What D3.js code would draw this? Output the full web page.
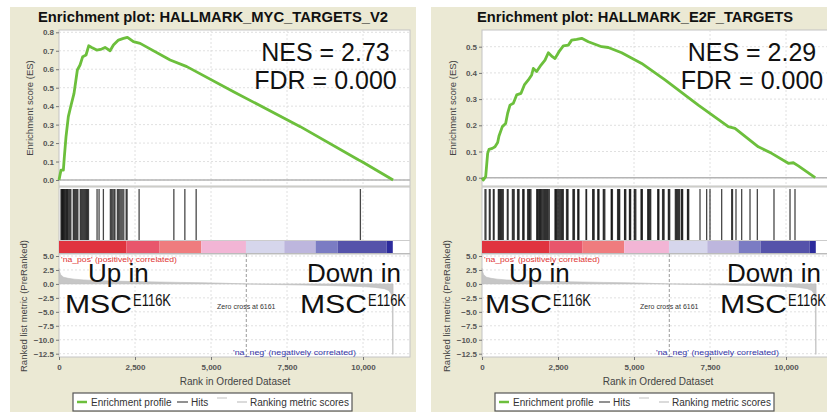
<!DOCTYPE html>
<html><head><meta charset="utf-8">
<script src="https://cdn.jsdelivr.net/npm/d3@7"></script>
<style>body{margin:0;background:#fff;} svg{display:block;font-family:"Liberation Sans",Arial,sans-serif;}</style>
</head><body><svg id="c" width="827" height="412"></svg>
<script>
// ---------------- DATA ----------------
const rankTicks = [0, 2500, 5000, 7500, 10000];
const metricTicks = [5, 2.5, 0, -2.5, -5, -7.5, -10, -12.5];
const mycTicks = [0, 0.1, 0.2, 0.3, 0.4, 0.5, 0.6, 0.7, 0.8];
const e2fTicks = [0, 0.1, 0.2, 0.3, 0.4, 0.5];
const nRanks = 11000;
const zeroCross = 6161;

// Enrichment profile: MYC targets V2
const mycRank = [0, 66, 143, 176, 231, 307, 384, 494, 604, 692, 780, 889, 977, 1076, 1241, 1405, 1515, 1680, 1790, 1955, 2120, 2251, 2449, 2668, 3656, 4205, 5742, 7938, 9859, 9970, 10990];
const mycES   = [0, 0.054, 0.054, 0.126, 0.235, 0.343, 0.397, 0.469, 0.596, 0.623, 0.668, 0.677, 0.727, 0.718, 0.704, 0.709, 0.718, 0.700, 0.731, 0.758, 0.767, 0.773, 0.749, 0.740, 0.650, 0.614, 0.478, 0.289, 0.108, 0.099, 0];
const mycHits = [66, 90, 110, 130, 150, 175, 200, 225, 250, 275, 300, 330, 360, 390, 470, 500, 530, 560, 590, 620, 700, 730, 760, 790, 820, 850, 880, 910, 940, 970, 1252, 1318, 1460, 1690, 1730, 1770, 1810, 1840, 1920, 1960, 2000, 2040, 2080, 2130, 2210, 2240, 2635, 3778, 4140, 4512, 9914];

// Enrichment profile: E2F targets
const e2fRank = [0, 44, 121, 186, 230, 340, 428, 515, 559, 669, 778, 844, 921, 1031, 1140, 1283, 1393, 1524, 1634, 1689, 1798, 1941, 2072, 2182, 2314, 2401, 2533, 2675, 2840, 2950, 3114, 3279, 3498, 3936, 4155, 4594, 5252, 6020, 7116, 8102, 8322, 9090, 9529, 10077, 10241, 10406, 10960];
const e2fES   = [0, -0.009, 0.004, 0.093, 0.108, 0.112, 0.118, 0.134, 0.159, 0.195, 0.207, 0.246, 0.277, 0.284, 0.316, 0.322, 0.354, 0.373, 0.392, 0.417, 0.405, 0.430, 0.449, 0.477, 0.462, 0.455, 0.481, 0.503, 0.506, 0.525, 0.528, 0.532, 0.519, 0.500, 0.497, 0.477, 0.436, 0.373, 0.277, 0.195, 0.188, 0.118, 0.093, 0.055, 0.057, 0.045, 0];
const e2fHits = [99, 130, 241, 270, 373, 400, 537, 560, 585, 610, 640, 670, 702, 833, 860, 1000, 1030, 1060, 1170, 1195, 1220, 1340, 1360, 1385, 1500, 1530, 1557, 1580, 1610, 1800, 1820, 1845, 1870, 1895, 1920, 1945, 1970, 2000, 2030, 2060, 2090, 2120, 2150, 2180, 2215, 2401, 2420, 2445, 2470, 2500, 2530, 2560, 2590, 2620, 2650, 2675, 2780, 2807, 2830, 2990, 3016, 3040, 3150, 3169, 3190, 3421, 3440, 3640, 3662, 3690, 3810, 3826, 3850, 3990, 4013, 4040, 4250, 4266, 4290, 4460, 4485, 4510, 4530, 4690, 4704, 4730, 4850, 4868, 4890, 5010, 5033, 5060, 5230, 5252, 5275, 5450, 5475, 5500, 5525, 5550, 5780, 5800, 5820, 5940, 5964, 5990, 6130, 6151, 6175, 6360, 6390, 6414, 6440, 6470, 6500, 6560, 6579, 6600, 6760, 6776, 6800, 7171, 7390, 7500, 7884, 8213, 8240, 8355, 8542, 8816, 9057, 9605, 10132, 10296];

// Ranked list metric
const metricRank  = [0, 20, 60, 150, 300, 500, 800, 1200, 1800, 2500, 3300, 4000, 4800, 5300, 5700, 6161, 6600, 7200, 8000, 8800, 9500, 10000, 10400, 10700, 10850, 10930, 10965, 10975, 10990];
const metricValue = [2.8, 2.2, 1.6, 1.2, 1.0, 0.85, 0.72, 0.6, 0.5, 0.42, 0.34, 0.27, 0.2, 0.14, 0.07, 0, -0.06, -0.12, -0.2, -0.28, -0.38, -0.48, -0.62, -0.85, -1.2, -1.8, -3, -13, -13];

// Colour bar segment boundaries (rank)
const barBounds = [0, 2220, 3310, 4680, 6150, 7410, 8440, 9170, 10780, 10980];

// ---------------- STYLE / LAYOUT ----------------
const barColors = ["#E0343F", "#E8566C", "#EF7C7E", "#F2B5D5", "#D6D6EC", "#BDB6DD", "#7B7CC3", "#5553AA", "#2C2B9C"];
const green = "#6cbf3c";
const svg = d3.select("#c");

const panels = [
  { bg: [10, 7, 406, 410], x0: 59, title: "Enrichment plot: HALLMARK_MYC_TARGETS_V2", titleX: 213, titleW: 350,
    rank: mycRank, es: mycES, hits: mycHits, ticks: mycTicks, esDom: [0, 0.8], esRange: [180, 32.3],
    nes: "NES = 2.73", statX: 325.5, upX: 88, mscX: 65, downX: 307, msc2X: 300, legX: 73 },
  { bg: [431, 7, 420, 410], x0: 482, title: "Enrichment plot: HALLMARK_E2F_TARGETS", titleX: 635, titleW: 316,
    rank: e2fRank, es: e2fES, hits: e2fHits, ticks: e2fTicks, esDom: [0, 0.5], esRange: [177.7, 46.7],
    nes: "NES = 2.29", statX: 752, upX: 509, mscX: 485, downX: 727, msc2X: 720, legX: 495 }
];

const fmt1 = d3.format(".1f");
const fmtC = d3.format(",");

panels.forEach(p => {
  const g = svg.append("g");
  const W = 351, R = p.x0 + W;
  g.append("rect").attr("x", p.bg[0]).attr("y", p.bg[1]).attr("width", p.bg[2]).attr("height", p.bg[3]).attr("fill", "#EBE9D4");
  g.append("text").attr("x", p.titleX).attr("y", 22).attr("text-anchor", "middle")
    .attr("font-weight", "bold").attr("font-size", 14).attr("fill", "#111")
    .attr("textLength", p.titleW).attr("lengthAdjust", "spacingAndGlyphs").text(p.title);

  const x = d3.scaleLinear().domain([0, nRanks]).range([p.x0, p.x0 + 334.4]);
  const yE = d3.scaleLinear().domain(p.esDom).range(p.esRange);
  const yM = d3.scaleLinear().domain([5, -12.5]).range([256, 353.7]);

  // panel backgrounds
  [[30, 186], [187, 254], [254, 357]].forEach(([a, b]) => {
    g.append("rect").attr("x", p.x0).attr("y", a).attr("width", W).attr("height", b - a)
      .attr("fill", "#fff").attr("stroke", "#c4c4c4").attr("stroke-width", 1);
  });

  // gridlines
  const grid = g.append("g").attr("stroke", "#d8d8d8").attr("stroke-dasharray", "2,2").attr("stroke-width", 0.8);
  p.ticks.forEach(t => grid.append("line").attr("x1", p.x0).attr("x2", R).attr("y1", yE(t)).attr("y2", yE(t)));
  metricTicks.forEach(t => grid.append("line").attr("x1", p.x0).attr("x2", R).attr("y1", yM(t)).attr("y2", yM(t)));
  rankTicks.slice(1).forEach(t => {
    [[30, 186], [187, 240], [254, 357]].forEach(([a, b]) =>
      grid.append("line").attr("x1", x(t)).attr("x2", x(t)).attr("y1", a).attr("y2", b));
  });

  // ES zero line
  g.append("line").attr("x1", p.x0).attr("x2", R).attr("y1", yE(0)).attr("y2", yE(0)).attr("stroke", "#b4b4b4").attr("stroke-width", 1.5);

  // ES curve
  const pts = p.rank.map((r, i) => [r, p.es[i]]);
  g.append("path").attr("d", d3.line().x(d => x(d[0])).y(d => yE(d[1]))(pts))
    .attr("fill", "none").attr("stroke", green).attr("stroke-width", 2.8).attr("stroke-linejoin", "round");

  // ES axis
  const ya = g.append("g").attr("transform", `translate(${p.x0},0)`)
    .call(d3.axisLeft(yE).tickValues(p.ticks).tickFormat(fmt1).tickSize(3).tickPadding(2));
  ya.select(".domain").remove();
  ya.selectAll("line").attr("stroke", "#777");
  ya.selectAll("text").attr("font-size", 8).attr("font-weight", "bold").attr("fill", "#555").attr("font-family", "Liberation Sans, Arial, sans-serif");
  g.append("text").attr("transform", `translate(${p.x0 - 26},108) rotate(-90)`).attr("text-anchor", "middle")
    .attr("font-size", 9.5).attr("fill", "#444").text("Enrichment score (ES)");

  // hits
  const hg = g.append("g").attr("stroke", "#000").attr("stroke-opacity", 0.72).attr("stroke-width", 1.3);
  p.hits.forEach(h => hg.append("line").attr("x1", x(h)).attr("x2", x(h)).attr("y1", 189).attr("y2", 240));

  // colour bar
  barColors.forEach((c, i) => {
    g.append("rect").attr("x", x(barBounds[i])).attr("y", 241).attr("width", x(barBounds[i + 1]) - x(barBounds[i]))
      .attr("height", 12).attr("fill", c);
  });
  g.append("line").attr("x1", p.x0).attr("x2", R).attr("y1", 240.5).attr("y2", 240.5).attr("stroke", "#ccc");
  g.append("line").attr("x1", p.x0).attr("x2", R).attr("y1", 253.5).attr("y2", 253.5).attr("stroke", "#bbb");

  // ranked metric area
  const mpts = metricRank.map((r, i) => [r, metricValue[i]]);
  g.append("path").attr("d", d3.area().x(d => x(d[0])).y0(yM(0)).y1(d => yM(Math.max(d[1], -12.6)))(mpts))
    .attr("fill", "#c6c6c6").attr("stroke", "#bdbdbd").attr("stroke-width", 0.6);

  // zero cross
  g.append("line").attr("x1", x(zeroCross)).attr("x2", x(zeroCross)).attr("y1", 254).attr("y2", 357)
    .attr("stroke", "#999").attr("stroke-dasharray", "3,2");
  g.append("text").attr("x", x(zeroCross)).attr("y", 309).attr("text-anchor", "middle").attr("font-size", 7).attr("fill", "#333")
    .text("Zero cross at " + zeroCross);
  g.append("text").attr("x", p.x0 + 2).attr("y", 261.5).attr("font-size", 7.5).attr("fill", "#e03535")
    .attr("textLength", 116).attr("lengthAdjust", "spacingAndGlyphs").text("'na_pos' (positively correlated)");
  g.append("text").attr("x", p.x0 + 174).attr("y", 355).attr("font-size", 7.5).attr("fill", "#3535a5")
    .attr("textLength", 123).attr("lengthAdjust", "spacingAndGlyphs").text("'na_neg' (negatively correlated)");

  // metric axis
  const ma = g.append("g").attr("transform", `translate(${p.x0},0)`)
    .call(d3.axisLeft(yM).tickValues(metricTicks).tickFormat(fmt1).tickSize(3).tickPadding(2));
  ma.select(".domain").remove();
  ma.selectAll("line").attr("stroke", "#777");
  ma.selectAll("text").attr("font-size", 8).attr("font-weight", "bold").attr("fill", "#555").attr("font-family", "Liberation Sans, Arial, sans-serif");
  g.append("text").attr("transform", `translate(${p.x0 - 32},306) rotate(-90)`).attr("text-anchor", "middle")
    .attr("font-size", 9.5).attr("fill", "#444").text("Ranked list metric (PreRanked)");

  // x axis
  const xa = g.append("g").attr("transform", "translate(0,357)")
    .call(d3.axisBottom(x).tickValues(rankTicks).tickFormat(d => fmtC(d)).tickSize(3).tickPadding(4));
  xa.select(".domain").remove();
  xa.selectAll("line").attr("stroke", "#777");
  xa.selectAll("text").attr("font-size", 8).attr("font-weight", "bold").attr("fill", "#555").attr("font-family", "Liberation Sans, Arial, sans-serif");
  g.append("text").attr("x", p.x0 + 176).attr("y", 384.5).attr("text-anchor", "middle").attr("font-size", 10).attr("fill", "#444")
    .text("Rank in Ordered Dataset");

  // statistics
  g.append("text").attr("x", p.statX).attr("y", 61).attr("text-anchor", "middle").attr("font-size", 25).attr("fill", "#111").text(p.nes);
  g.append("text").attr("x", p.statX).attr("y", 89).attr("text-anchor", "middle").attr("font-size", 25).attr("fill", "#111").text("FDR = 0.000");

  // annotations
  g.append("text").attr("x", p.upX).attr("y", 282).attr("font-size", 26).attr("fill", "#111").text("Up in");
  g.append("text").attr("x", p.downX).attr("y", 282).attr("font-size", 26).attr("fill", "#111").text("Down in");
  [p.mscX, p.msc2X].forEach(mx => {
    g.append("text").attr("x", mx).attr("y", 313).attr("font-size", 26).attr("fill", "#111")
      .attr("textLength", 67).attr("lengthAdjust", "spacingAndGlyphs").text("MSC");
    g.append("text").attr("x", mx + 68).attr("y", 306).attr("font-size", 17).attr("fill", "#111")
      .attr("textLength", 38).attr("lengthAdjust", "spacingAndGlyphs").text("E116K");
  });

  // legend
  const L = p.legX;
  g.append("rect").attr("x", L).attr("y", 393).attr("width", 279).attr("height", 18).attr("fill", "#fff").attr("stroke", "#555").attr("stroke-width", 1.2);
  g.append("line").attr("x1", L + 4).attr("x2", L + 14).attr("y1", 402).attr("y2", 402).attr("stroke", green).attr("stroke-width", 2.5);
  g.append("text").attr("x", L + 18).attr("y", 405.5).attr("font-size", 10).attr("fill", "#333").text("Enrichment profile");
  g.append("line").attr("x1", L + 104).attr("x2", L + 115).attr("y1", 402).attr("y2", 402).attr("stroke", "#555").attr("stroke-width", 1.3);
  g.append("text").attr("x", L + 118).attr("y", 405.5).attr("font-size", 10).attr("fill", "#333").text("Hits");
  g.append("line").attr("x1", L + 144).attr("x2", L + 154).attr("y1", 398).attr("y2", 398).attr("stroke", "#d0d0d0").attr("stroke-width", 1.3);
  g.append("line").attr("x1", L + 164).attr("x2", L + 174).attr("y1", 402).attr("y2", 402).attr("stroke", "#c8c8c8").attr("stroke-width", 1.3);
  g.append("text").attr("x", L + 177).attr("y", 405.5).attr("font-size", 10).attr("fill", "#333").text("Ranking metric scores");
});
</script></body></html>
